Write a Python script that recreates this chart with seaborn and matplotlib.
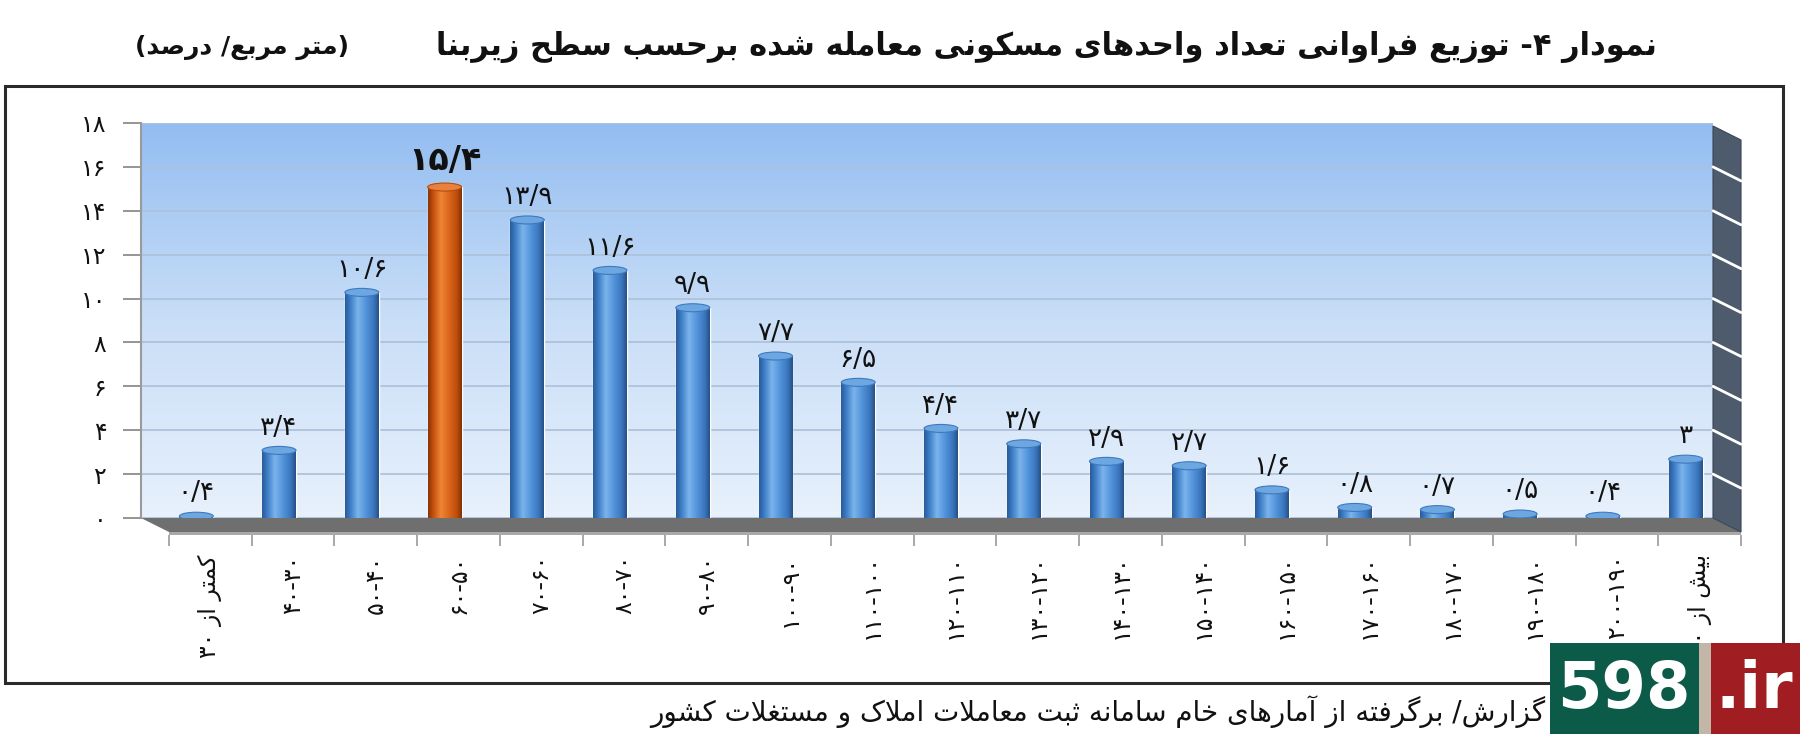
import re
import numpy as np
import pandas as pd
import matplotlib
matplotlib.use("Agg")
import matplotlib.pyplot as plt
import seaborn as sns
from matplotlib.patches import Polygon, Ellipse, Rectangle
from matplotlib.colors import LinearSegmentedColormap
from matplotlib.lines import Line2D

# ---------------- data ----------------
categories = ["کمتر از ۳۰", "۳۰-۴۰", "۴۰-۵۰", "۵۰-۶۰", "۶۰-۷۰", "۷۰-۸۰", "۸۰-۹۰",
              "۹۰-۱۰۰", "۱۰۰-۱۱۰", "۱۱۰-۱۲۰", "۱۲۰-۱۳۰", "۱۳۰-۱۴۰", "۱۴۰-۱۵۰",
              "۱۵۰-۱۶۰", "۱۶۰-۱۷۰", "۱۷۰-۱۸۰", "۱۸۰-۱۹۰", "۱۹۰-۲۰۰", "بیش از ۲۰۰"]
values = [0.4, 3.4, 10.6, 15.4, 13.9, 11.6, 9.9, 7.7, 6.5, 4.4, 3.7, 2.9, 2.7,
          1.6, 0.8, 0.7, 0.5, 0.4, 3]
highlight = "۵۰-۶۰"
yticks = [0, 2, 4, 6, 8, 10, 12, 14, 16, 18]
title = "نمودار ۴- توزیع فراوانی تعداد واحدهای مسکونی معامله شده برحسب سطح زیربنا"
subtitle = "(متر مربع/ درصد)"
footer = "گزارش/ برگرفته از آمارهای خام سامانه ثبت معاملات املاک و مستغلات کشور"

# ---------------- Persian shaping / visual order ----------------
DUAL = {
    'ب': (0xFE8F, 0xFE90, 0xFE91, 0xFE92), 'پ': (0xFB56, 0xFB57, 0xFB58, 0xFB59),
    'ت': (0xFE95, 0xFE96, 0xFE97, 0xFE98), 'ث': (0xFE99, 0xFE9A, 0xFE9B, 0xFE9C),
    'ج': (0xFE9D, 0xFE9E, 0xFE9F, 0xFEA0), 'چ': (0xFB7A, 0xFB7B, 0xFB7C, 0xFB7D),
    'ح': (0xFEA1, 0xFEA2, 0xFEA3, 0xFEA4), 'خ': (0xFEA5, 0xFEA6, 0xFEA7, 0xFEA8),
    'س': (0xFEB1, 0xFEB2, 0xFEB3, 0xFEB4), 'ش': (0xFEB5, 0xFEB6, 0xFEB7, 0xFEB8),
    'ص': (0xFEB9, 0xFEBA, 0xFEBB, 0xFEBC), 'ض': (0xFEBD, 0xFEBE, 0xFEBF, 0xFEC0),
    'ط': (0xFEC1, 0xFEC2, 0xFEC3, 0xFEC4), 'ظ': (0xFEC5, 0xFEC6, 0xFEC7, 0xFEC8),
    'ع': (0xFEC9, 0xFECA, 0xFECB, 0xFECC), 'غ': (0xFECD, 0xFECE, 0xFECF, 0xFED0),
    'ف': (0xFED1, 0xFED2, 0xFED3, 0xFED4), 'ق': (0xFED5, 0xFED6, 0xFED7, 0xFED8),
    'ک': (0xFB8E, 0xFB8F, 0xFB90, 0xFB91), 'گ': (0xFB92, 0xFB93, 0xFB94, 0xFB95),
    'ل': (0xFEDD, 0xFEDE, 0xFEDF, 0xFEE0), 'م': (0xFEE1, 0xFEE2, 0xFEE3, 0xFEE4),
    'ن': (0xFEE5, 0xFEE6, 0xFEE7, 0xFEE8), 'ه': (0xFEE9, 0xFEEA, 0xFEEB, 0xFEEC),
    'ی': (0xFBFC, 0xFBFD, 0xFBFE, 0xFBFF),
}
RIGHT = {
    'ا': (0xFE8D, 0xFE8E), 'آ': (0xFE81, 0xFE82), 'أ': (0xFE83, 0xFE84),
    'د': (0xFEA9, 0xFEAA), 'ذ': (0xFEAB, 0xFEAC), 'ر': (0xFEAD, 0xFEAE),
    'ز': (0xFEAF, 0xFEB0), 'ژ': (0xFB8A, 0xFB8B), 'و': (0xFEED, 0xFEEE),
}
LAM_ALEF = {'ا': (0xFEFB, 0xFEFC), 'آ': (0xFEF5, 0xFEF6), 'أ': (0xFEF7, 0xFEF8)}
MIRROR = {'(': ')', ')': '('}
PDIG = str.maketrans('0123456789', '۰۱۲۳۴۵۶۷۸۹')


def shape(s):
    out, i, n = [], 0, len(s)
    while i < n:
        c = s[i]
        prev = i > 0 and s[i - 1] in DUAL
        if c == 'ل' and i + 1 < n and s[i + 1] in LAM_ALEF:
            iso, fin = LAM_ALEF[s[i + 1]]
            out.append(chr(fin if prev else iso))
            i += 2
            continue
        if c in DUAL:
            nxt = i + 1 < n and (s[i + 1] in DUAL or s[i + 1] in RIGHT)
            k = 3 if (prev and nxt) else 1 if prev else 2 if nxt else 0
            out.append(chr(DUAL[c][k]))
        elif c in RIGHT:
            out.append(chr(RIGHT[c][1 if prev else 0]))
        else:
            out.append(c)
        i += 1
    return ''.join(out)


def vis(s):
    s = shape(s)
    toks = re.findall(r'[0-9۰-۹]+(?:/[0-9۰-۹]+)?|[^0-9۰-۹]+', s)
    out = []
    for t in reversed(toks):
        if t[0] in '0123456789۰۱۲۳۴۵۶۷۸۹':
            out.append(t)
        else:
            out.append(''.join(MIRROR.get(c, c) for c in reversed(t)))
    return ''.join(out)


def pnum(v):
    return f"{v:g}".replace('.', '/').translate(PDIG)


# ---------------- figure ----------------
sns.set_theme(style="white")
plt.rcParams['font.family'] = ['DejaVu Sans']

W, H = 1800, 734
fig = plt.figure(figsize=(18, 7.34), dpi=100)
fig.patch.set_facecolor('white')


def fx(px):
    return px / W


def fy(py):
    return 1 - py / H


WL, WR, WT, WB = 141, 1713, 123, 518   # back wall (pixels)
DX, DY = 28, 14                         # depth offset
aw, ah = (WR - WL) / W, (WB - WT) / H
ymax = yticks[-1]
n = len(categories)

# back wall
ax_wall = fig.add_axes([fx(WL), fy(WB), aw, ah])
ax_wall.set_xlim(-0.5, n - 0.5)
ax_wall.set_ylim(0, ymax)
bg = LinearSegmentedColormap.from_list('bg', ['#e8f1fc', '#c9def7', '#93bdf1'])
ax_wall.imshow(np.linspace(0, 1, 256)[:, None], extent=(-0.5, n - 0.5, 0, ymax),
               origin='lower', aspect='auto', cmap=bg, zorder=-2)
ax_wall.set_yticks(yticks)
ax_wall.set_yticklabels([str(t).translate(PDIG) for t in yticks])
ax_wall.set_xticks([])
ax_wall.yaxis.grid(True, color='#aec2da', lw=1.3)
ax_wall.set_axisbelow(True)
for sp in ['top', 'right', 'bottom']:
    ax_wall.spines[sp].set_visible(False)
ax_wall.spines['left'].set_color('#9a9a9a')
ax_wall.spines['left'].set_linewidth(1.5)
ax_wall.tick_params(axis='y', length=13, width=1.3, color='#8c8c8c', pad=12,
                    labelsize=17, labelcolor='#111111', left=True)

# floor and side wall (decor, in figure pixel space)
T = fig.transFigure
floor = Polygon([(fx(WL), fy(WB)), (fx(WR), fy(WB)), (fx(WR + DX), fy(WB + DY)),
                 (fx(WL + DX), fy(WB + DY))], closed=True, transform=T,
                facecolor='#6f6f6f', edgecolor='none', zorder=5)
fig.patches.append(floor)
fig.patches.append(Polygon([(fx(WL + DX), fy(WB + DY)), (fx(WR + DX), fy(WB + DY)),
                            (fx(WR + DX), fy(WB + DY + 3)), (fx(WL + DX), fy(WB + DY + 3))],
                           closed=True, transform=T, facecolor='#a9a9a9',
                           edgecolor='none', zorder=5))
side = Polygon([(fx(WR), fy(WT + 3)), (fx(WR + DX), fy(WT + DY + 3)),
                (fx(WR + DX), fy(WB + DY)), (fx(WR), fy(WB))], closed=True,
               transform=T, facecolor='#4d5b6d', edgecolor='#3a4555', lw=0.8, zorder=5)
fig.patches.append(side)
pxu = (WB - WT) / ymax
for t in yticks[1:-1]:
    yp = WB - t * pxu
    fig.lines.append(Line2D([fx(WR), fx(WR + DX)], [fy(yp), fy(yp + DY)],
                            transform=T, color='white', lw=2, zorder=6))

# bars (mid depth)
ax_bars = fig.add_axes([fx(WL + DX / 2), fy(WB + DY / 2), aw, ah], zorder=3)
ax_bars.patch.set_alpha(0)
df = pd.DataFrame({'cat': categories, 'val': values})
pal = {c: ('#d9621a' if c == highlight else '#4a8ad4') for c in categories}
sns.barplot(data=df, x='cat', y='val', hue='cat', palette=pal, legend=False,
            width=0.41, saturation=1, ax=ax_bars, zorder=2)
ax_bars.set_xlim(-0.5, n - 0.5)
ax_bars.set_ylim(0, ymax)
ax_bars.axis('off')

cm_blue = LinearSegmentedColormap.from_list(
    'cb', [(0, '#2a5a98'), (0.15, '#3c7cc6'), (0.38, '#7bb4ec'), (0.6, '#5596dc'),
           (0.85, '#3a76bd'), (1, '#264f86')])
cm_or = LinearSegmentedColormap.from_list(
    'co', [(0, '#8a3304'), (0.15, '#c2500c'), (0.38, '#f08538'), (0.6, '#de681d'),
           (0.85, '#bd4e0c'), (1, '#843003')])
eh = 8 / pxu
grad = np.linspace(0, 1, 128)[None, :]
for p, c, v in zip(ax_bars.patches, categories, values):
    x0, w, h = p.get_x(), p.get_width(), p.get_height()
    hl = c == highlight
    cm = cm_or if hl else cm_blue
    ax_bars.add_patch(Ellipse((x0 + w / 2, 0), w, eh, facecolor=cm(0.5),
                              edgecolor='none', zorder=2.5, clip_on=False))
    ax_bars.imshow(grad, extent=(x0, x0 + w, 0, h), aspect='auto', cmap=cm,
                   zorder=3, interpolation='bilinear')
    ax_bars.add_patch(Ellipse((x0 + w / 2, h), w, eh,
                              facecolor=('#e9813e' if hl else '#6da7e2'),
                              edgecolor=('#b84c0b' if hl else '#3f78bd'), lw=0.8,
                              zorder=4, clip_on=False))
    ax_bars.annotate(pnum(v), (x0 + w / 2, h), xytext=(0, 7), textcoords='offset points',
                     ha='center', va='bottom', fontsize=24 if hl else 19,
                     fontweight='bold' if hl else 'normal', color='#111111',
                     annotation_clip=False, zorder=6)
ax_bars.set_xlim(-0.5, n - 0.5)
ax_bars.set_ylim(0, ymax)

# front edge: tick marks and category labels
ax_front = fig.add_axes([fx(WL + DX), fy(WB + DY + 3), aw, 0.0001], zorder=4)
ax_front.patch.set_alpha(0)
ax_front.set_xlim(-0.5, n - 0.5)
ax_front.set_yticks([])
for sp in ax_front.spines.values():
    sp.set_visible(False)
ax_front.set_xticks(np.arange(n + 1) - 0.5)
ax_front.set_xticklabels([])
ax_front.set_xticks(np.arange(n), minor=True)
ax_front.set_xticklabels([vis(c) for c in categories], minor=True, rotation=90)
ax_front.tick_params(axis='x', which='major', length=8, width=1.2, color='#9a9a9a',
                     direction='out', bottom=True)
ax_front.tick_params(axis='x', which='minor', length=0, pad=14, labelsize=17,
                     labelcolor='#111111', bottom=True)

# frame
fig.patches.append(Rectangle((fx(5), fy(683)), fx(1783) - fx(5), fy(86) - fy(683),
                             transform=T, fill=False, edgecolor='#2a2a2a', lw=2.2,
                             zorder=1))

# texts
fig.text(fx(1657), fy(47), vis(title), ha='right', va='center', fontsize=22,
         fontweight='bold', color='#111111')
fig.text(fx(135), fy(47), vis(subtitle), ha='left', va='center', fontsize=18,
         fontweight='bold', color='#111111')
fig.text(fx(1545), fy(712), vis(footer), ha='right', va='center', fontsize=20,
         color='#111111')

# watermark
fig.patches.append(Rectangle((fx(1550), 0), fx(1699) - fx(1550), fy(643), transform=T,
                             facecolor='#0c5a48', edgecolor='none', zorder=20))
fig.patches.append(Rectangle((fx(1699), 0), fx(1711) - fx(1699), fy(643), transform=T,
                             facecolor='#c4b6a6', edgecolor='none', zorder=20))
fig.patches.append(Rectangle((fx(1711), 0), fx(1800) - fx(1711), fy(643), transform=T,
                             facecolor='#a01d22', edgecolor='none', zorder=20))
fig.text(fx(1624), fy(690), '598', ha='center', va='center', fontsize=46,
         fontweight='bold', color='white', zorder=21)
fig.text(fx(1754), fy(690), '.ir', ha='center', va='center', fontsize=46,
         fontweight='bold', color='white', zorder=21)

fig.savefig('out.png', dpi=100)
